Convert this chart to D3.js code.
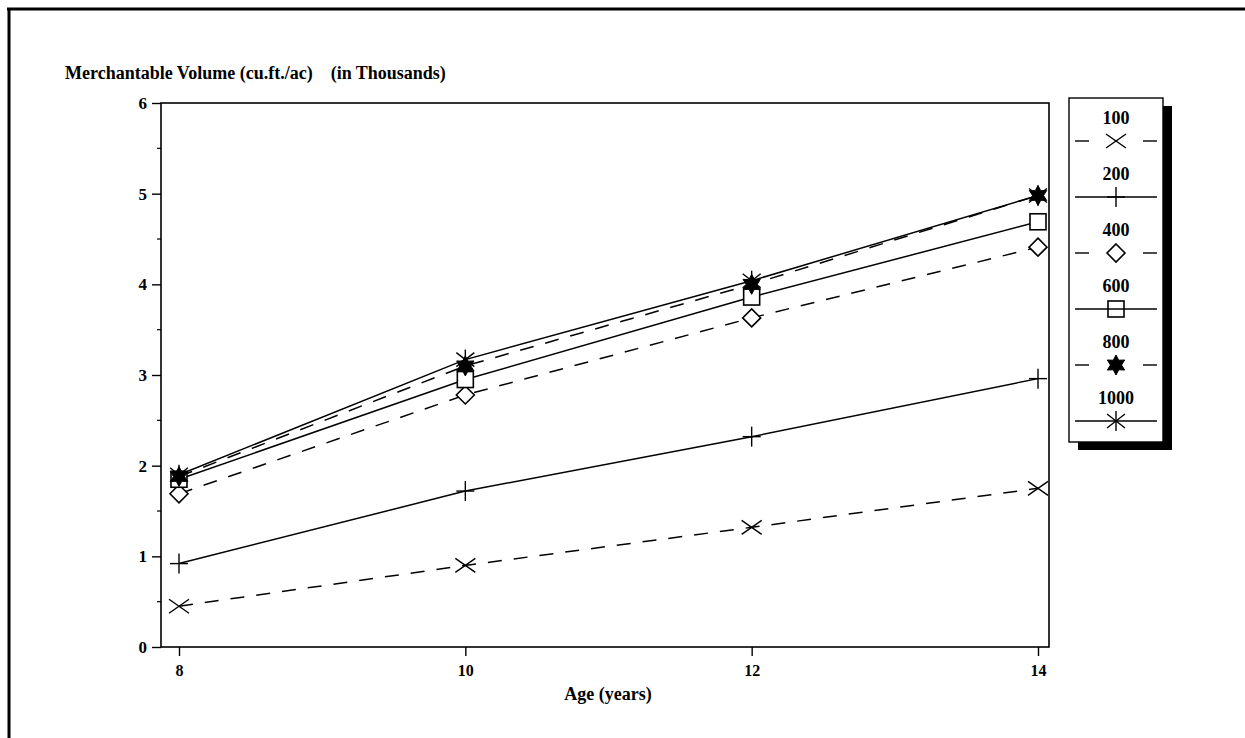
<!DOCTYPE html>
<html>
<head>
<meta charset="utf-8">
<script src="https://cdn.jsdelivr.net/npm/d3@7"></script>
<style>
  html, body { margin: 0; padding: 0; background: #fff; }
  svg { display: block; }
  text { font-family: "Liberation Serif", "Times New Roman", serif; font-weight: bold; fill: #000; }
</style>
</head>
<body>
<svg id="chart" width="1245" height="738"></svg>
<script>
// Stand age (years)
const ages = [8, 10, 12, 14];
// Planting densities (trees/ac) used as series names
const densities = ["100", "200", "400", "600", "800", "1000"];
// Merchantable volume, thousands of cu.ft./ac, per density
const vol100  = [0.45, 0.90, 1.32, 1.75];
const vol200  = [0.92, 1.72, 2.32, 2.96];
const vol400  = [1.69, 2.78, 3.63, 4.41];
const vol600  = [1.85, 2.95, 3.86, 4.69];
const vol800  = [1.88, 3.10, 4.00, 4.98];
const vol1000 = [1.90, 3.17, 4.04, 4.98];
const yTicks = [0, 1, 2, 3, 4, 5, 6];
const yMinorTicks = [0.5, 1.5, 2.5, 3.5, 4.5, 5.5];

const seriesValues = [vol100, vol200, vol400, vol600, vol800, vol1000];
const seriesDashed = [true, false, true, false, true, false];
const seriesMarker = ["x", "plus", "diamond", "square", "star", "asterisk"];

const svg = d3.select("#chart");

// page frame (top and left rules)
svg.append("line").attr("x1", 7).attr("x2", 1245).attr("y1", 9).attr("y2", 9)
  .attr("stroke", "#000").attr("stroke-width", 3);
svg.append("line").attr("x1", 9).attr("x2", 9).attr("y1", 8).attr("y2", 738)
  .attr("stroke", "#000").attr("stroke-width", 3);

// plot frame
const frame = { left: 161, right: 1049, top: 103, bottom: 647 };
const x = d3.scaleLinear().domain([8, 14]).range([179, 1038]);
const y = d3.scaleLinear().domain([0, 6]).range([frame.bottom, frame.top]);

svg.append("rect")
  .attr("x", frame.left).attr("y", frame.top)
  .attr("width", frame.right - frame.left).attr("height", frame.bottom - frame.top)
  .attr("fill", "none").attr("stroke", "#000").attr("stroke-width", 1.6);

// title
svg.append("text").attr("x", 65).attr("y", 79)
  .style("font-size", "18px")
  .attr("xml:space", "preserve")
  .text("Merchantable Volume (cu.ft./ac)    (in Thousands)");

// y axis
const yAxis = svg.append("g")
  .attr("transform", `translate(${frame.left},0)`)
  .call(d3.axisLeft(y).tickValues(yTicks).tickFormat(d3.format("d")).tickSize(9).tickPadding(5).tickSizeOuter(0));
yAxis.select(".domain").remove();
yAxis.selectAll(".tick line").attr("stroke-width", 1.4);
yAxis.selectAll(".tick text").style("font-size", "17px").style("font-family", "Liberation Serif").style("font-weight", "bold");

svg.append("g").selectAll("line").data(yMinorTicks).join("line")
  .attr("x1", frame.left - 4).attr("x2", frame.left)
  .attr("y1", d => y(d)).attr("y2", d => y(d))
  .attr("stroke", "#000").attr("stroke-width", 1.2);

// x axis
const xAxis = svg.append("g")
  .attr("transform", `translate(0,${frame.bottom})`)
  .call(d3.axisBottom(x).tickValues(ages).tickFormat(d3.format("d")).tickSize(9).tickPadding(9).tickSizeOuter(0));
xAxis.select(".domain").remove();
xAxis.selectAll(".tick line").attr("stroke-width", 1.4);
xAxis.selectAll(".tick text").style("font-size", "16px").style("font-family", "Liberation Serif").style("font-weight", "bold");

svg.append("text").attr("x", 608).attr("y", 700).attr("text-anchor", "middle")
  .style("font-size", "18px").text("Age (years)");

// marker drawing
function drawMarker(g, type, fillBg) {
  const ln = (x1, y1, x2, y2) => g.append("line").attr("x1", x1).attr("y1", y1).attr("x2", x2).attr("y2", y2)
    .attr("stroke", "#000").attr("stroke-width", 1.4);
  if (type === "x") {
    ln(-10, -7, 10, 7); ln(-10, 7, 10, -7);
  } else if (type === "plus") {
    ln(-9, 0, 9, 0); ln(0, -10, 0, 10);
  } else if (type === "diamond") {
    g.append("path").attr("d", "M0,-9L9,0L0,9L-9,0Z")
      .attr("fill", fillBg).attr("stroke", "#000").attr("stroke-width", 1.6);
  } else if (type === "square") {
    g.append("rect").attr("x", -8).attr("y", -8).attr("width", 16).attr("height", 16)
      .attr("fill", fillBg).attr("stroke", "#000").attr("stroke-width", 1.6);
  } else if (type === "star") {
    const pts = d3.range(12).map(i => {
      const a = -Math.PI / 2 + i * Math.PI / 6;
      const r = i % 2 === 0 ? 10 : 5.5;
      return [r * Math.cos(a), r * Math.sin(a)];
    });
    g.append("path").attr("d", d3.line()(pts) + "Z").attr("fill", "#000").attr("stroke", "#000").attr("stroke-width", 1);
  } else if (type === "asterisk") {
    ln(-9, -7, 9, 7); ln(-9, 7, 9, -7); ln(0, -10, 0, 10);
  }
}

// series lines
const line = d3.line().x(d => x(d[0])).y(d => y(d[1]));
const plot = svg.append("g");
seriesValues.forEach((vals, i) => {
  const pts = ages.map((a, j) => [a, vals[j]]);
  plot.append("path").datum(pts).attr("d", line)
    .attr("fill", "none").attr("stroke", "#000").attr("stroke-width", 1.5)
    .attr("stroke-dasharray", seriesDashed[i] ? "14,12" : null);
});
seriesValues.forEach((vals, i) => {
  ages.forEach((a, j) => {
    const g = plot.append("g").attr("transform", `translate(${x(a)},${y(vals[j])})`);
    drawMarker(g, seriesMarker[i], "#fff");
  });
});

// legend
const lg = { left: 1069, top: 98, width: 94, height: 344, rowStart: 118, rowStep: 56 };
svg.append("rect").attr("x", lg.left + 9).attr("y", lg.top + 8)
  .attr("width", lg.width).attr("height", lg.height).attr("fill", "#000");
svg.append("rect").attr("x", lg.left).attr("y", lg.top)
  .attr("width", lg.width).attr("height", lg.height)
  .attr("fill", "#fff").attr("stroke", "#000").attr("stroke-width", 1.4);
const cx = lg.left + lg.width / 2;
densities.forEach((name, i) => {
  const ty = lg.rowStart + i * lg.rowStep;
  svg.append("text").attr("x", cx).attr("y", ty + 6).attr("text-anchor", "middle")
    .style("font-size", "18px").text(name);
  const sy = ty + 23;
  if (seriesDashed[i]) {
    svg.append("line").attr("x1", lg.left + 6).attr("x2", lg.left + 20).attr("y1", sy).attr("y2", sy)
      .attr("stroke", "#000").attr("stroke-width", 1.4);
    svg.append("line").attr("x1", lg.left + lg.width - 20).attr("x2", lg.left + lg.width - 6).attr("y1", sy).attr("y2", sy)
      .attr("stroke", "#000").attr("stroke-width", 1.4);
  } else {
    svg.append("line").attr("x1", lg.left + 6).attr("x2", lg.left + lg.width - 6).attr("y1", sy).attr("y2", sy)
      .attr("stroke", "#000").attr("stroke-width", 1.4);
  }
  const g = svg.append("g").attr("transform", `translate(${cx},${sy})`);
  drawMarker(g, seriesMarker[i], "none");
});
</script>
</body>
</html>
